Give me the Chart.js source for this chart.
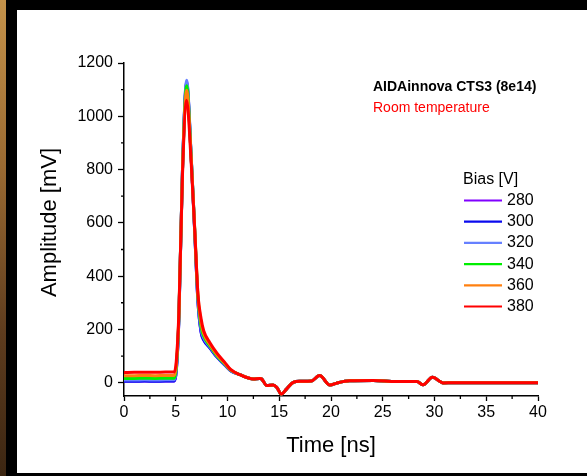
<!DOCTYPE html>
<html>
<head>
<meta charset="utf-8">
<script src="https://cdn.jsdelivr.net/npm/chart.js@4.4.0/dist/chart.umd.min.js"></script>
<style>
  html, body { margin: 0; padding: 0; background: #000; }
  body { width: 587px; height: 476px; position: relative; overflow: hidden; }
  #edge { position: absolute; left: 0; top: 0; width: 6px; height: 476px;
          background: linear-gradient(#c4924a, #9a6a32 35%, #5e3c1e 70%, #3c2612); }
  #panel { position: absolute; left: 17px; top: 10px; width: 570px; height: 463px; background: #fff; }
  canvas { display: block; }
</style>
</head>
<body>
<div id="edge"></div>
<div id="panel"><canvas id="pulse" width="570" height="463"></canvas></div>
<script>
// bias voltages and trace colours
const biases = ['280', '300', '320', '340', '360', '380'];
const colors = ['#8000ff', '#0a0aee', '#6680ff', '#00ee00', '#ff8010', '#ff0000'];

// time samples [ns] around the pulse (each bias has its own values here)
const headTimes = [0, 1, 2, 3, 4, 4.85, 5.05, 5.3, 5.65, 6.05, 6.5, 6.85, 7.15, 7.45, 7.7, 8.3, 9.0, 9.7, 10.3];
const amp280 = [6, 6, 6, 6, 6, 6, 42, 235, 798, 1122, 838, 550, 300, 192, 162, 132, 96, 69, 45];
const amp300 = [5, 5, 6, 5, 6, 6, 42, 235, 800, 1128, 840, 550, 300, 188, 160, 130, 95, 68, 45];
const amp320 = [10, 10, 11, 10, 11, 11, 48, 240, 800, 1135, 845, 555, 305, 200, 168, 134, 98, 70, 46];
const amp340 = [16, 16, 17, 16, 17, 17, 55, 245, 795, 1115, 840, 560, 315, 210, 175, 138, 100, 72, 47];
const amp360 = [26, 26, 27, 26, 27, 27, 65, 250, 790, 1098, 835, 565, 325, 225, 185, 143, 104, 74, 48];
const amp380 = [38, 39, 39, 39, 40, 40, 80, 260, 780, 1060, 820, 560, 330, 240, 195, 150, 110, 78, 50];

// common tail after the pulse, all biases overlap here
const tailTimes = [11.2, 12.5, 13.1, 13.3, 13.8, 14.4, 14.75, 15.2, 15.7, 16.35, 17.0, 18.1, 18.9, 19.9, 20.6, 21.8, 24.1, 26.3, 28.3, 28.9, 29.8, 30.85, 31.8, 35, 40];
const tailAmp = [30, 14, 16, 14, -11, -9, -17, -43, -24, 1, 5, 6, 27, -9, -1, 7, 8, 4, 4, -8, 20, -1, 0, 0, 0];

// axis ticks
const xTicks = [0, 5, 10, 15, 20, 25, 30, 35, 40];
const xMinor = [2.5, 7.5, 12.5, 17.5, 22.5, 27.5, 32.5, 37.5];
const yTicks = [0, 200, 400, 600, 800, 1000, 1200];
const yMinor = [100, 300, 500, 700, 900, 1100];

const FONT = '"Liberation Sans", Arial, sans-serif';
const heads = [amp280, amp300, amp320, amp340, amp360, amp380];

function trace(head) {
    const pts = headTimes.map((t, i) => ({ x: t, y: head[i] }));
    return pts.concat(tailTimes.map((t, i) => ({ x: t, y: tailAmp[i] })));
}

// short ticks between the labelled ones
const minorTicks = {
    id: 'minorTicks',
    afterDraw(chart) {
        const { ctx, chartArea, scales } = chart;
        ctx.save();
        ctx.strokeStyle = '#000';
        ctx.lineWidth = 1.3;
        ctx.beginPath();
        xMinor.forEach(v => {
            const px = scales.x.getPixelForValue(v);
            ctx.moveTo(px, chartArea.bottom);
            ctx.lineTo(px, chartArea.bottom + 3);
        });
        yMinor.forEach(v => {
            const py = scales.y.getPixelForValue(v);
            ctx.moveTo(chartArea.left - 3, py);
            ctx.lineTo(chartArea.left, py);
        });
        ctx.stroke();
        ctx.restore();
    }
};

// y title, legend box and the sample notes
const labels = {
    id: 'labels',
    afterDraw(chart) {
        const ctx = chart.ctx;
        ctx.save();
        ctx.fillStyle = '#000';
        ctx.textBaseline = 'middle';

        ctx.save();
        ctx.translate(33, 212.5);
        ctx.rotate(-Math.PI / 2);
        ctx.textAlign = 'center';
        ctx.font = '22px ' + FONT;
        ctx.fillText('Amplitude [mV]', 0, 0);
        ctx.restore();

        ctx.textAlign = 'left';
        ctx.font = 'bold 14px ' + FONT;
        ctx.fillText('AIDAinnova CTS3 (8e14)', 356, 77);
        ctx.fillStyle = '#ff0000';
        ctx.font = '14px ' + FONT;
        ctx.fillText('Room temperature', 356, 98);

        ctx.fillStyle = '#000';
        ctx.font = '16px ' + FONT;
        ctx.fillText('Bias [V]', 446, 170);
        biases.forEach((b, i) => {
            const y = 190.5 + i * 21.2;
            ctx.strokeStyle = colors[i];
            ctx.lineWidth = 2.2;
            ctx.beginPath();
            ctx.moveTo(447, y);
            ctx.lineTo(485, y);
            ctx.stroke();
            ctx.fillText(b, 490, y);
        });
        ctx.restore();
    }
};

new Chart(document.getElementById('pulse'), {
    type: 'line',
    data: {
        datasets: biases.map((b, i) => ({
            label: b,
            data: trace(heads[i]),
            borderColor: colors[i],
            borderWidth: 3,
            pointRadius: 0,
            cubicInterpolationMode: 'monotone',
            order: biases.length - i
        }))
    },
    options: {
        responsive: false,
        animation: false,
        layout: { padding: { left: 0, right: 49, top: 53, bottom: 0 } },
        plugins: { legend: { display: false }, tooltip: { enabled: false } },
        scales: {
            x: {
                type: 'linear',
                min: 0,
                max: 40,
                afterFit: s => { s.height = 77; },
                afterBuildTicks: s => { s.ticks = xTicks.map(v => ({ value: v })); },
                border: { color: '#000', width: 1.5 },
                grid: { drawOnChartArea: false, tickLength: 5, tickColor: '#000', tickWidth: 1.3 },
                ticks: { color: '#000', padding: 2, maxRotation: 0, font: { family: FONT, size: 16 },
                         callback: v => String(v) },
                title: {
                    display: true,
                    text: 'Time [ns]',
                    color: '#000',
                    font: { family: FONT, size: 22 },
                    padding: { top: 0, bottom: 14 }
                }
            },
            y: {
                min: -50,
                max: 1200,
                afterFit: s => { s.width = 107; },
                afterBuildTicks: s => { s.ticks = yTicks.map(v => ({ value: v })); },
                border: { color: '#000', width: 1.5 },
                grid: { drawOnChartArea: false, tickLength: 6, tickColor: '#000', tickWidth: 1.3 },
                ticks: { color: '#000', padding: 5, font: { family: FONT, size: 16 },
                         callback: v => String(v) }
            }
        }
    },
    plugins: [minorTicks, labels]
});
</script>
</body>
</html>
